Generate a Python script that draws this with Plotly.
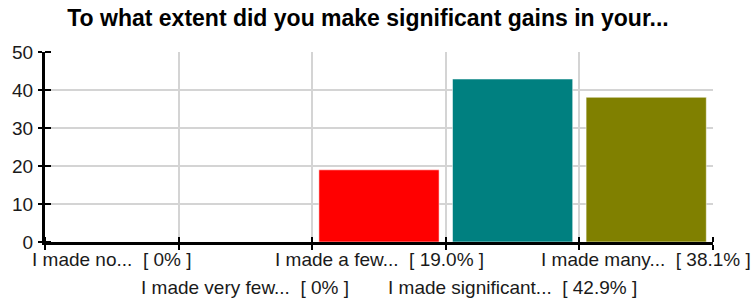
import plotly.graph_objects as go

categories = ["I made no...", "I made very few...", "I made a few...",
              "I made significant...", "I made many..."]
percent_values = [0.0, 0.0, 19.0, 42.9, 38.1]
bar_colors = ["#0000ff", "#00ff00", "#ff0000", "#008080", "#808000"]
y_ticks = [0, 10, 20, 30, 40, 50]
title_text = "To what extent did you make significant gains in your..."

NB = "\u00a0"
x_pos = list(range(len(categories)))

fig = go.Figure()
fig.add_trace(go.Bar(
    x=x_pos, y=percent_values,
    marker=dict(color=bar_colors, line=dict(color="rgba(255,255,255,0.55)", width=1)),
    width=0.9, hoverinfo="skip",
))

font_family = "Liberation Sans, Arial, sans-serif"

for i, (cat, v) in enumerate(zip(categories, percent_values)):
    pct = f"{v:.1f}%" if v else "0%"
    label = f"{cat}{NB}{NB}[{NB}{pct}{NB}]"
    fig.add_annotation(
        x=i, xref="x", y=0, yref="paper",
        yanchor="top", xanchor="center",
        yshift=-5 if i % 2 == 0 else -33,
        text=label, showarrow=False,
        font=dict(family=font_family, size=19, color="#1a1a1a"),
    )

fig.update_layout(
    width=755, height=303,
    margin=dict(l=43, r=42, t=52, b=61),
    paper_bgcolor="white", plot_bgcolor="white",
    showlegend=False,
    title=dict(
        text=f"<b>{title_text}</b>",
        x=368 / 755, xref="container", xanchor="center",
        y=1 - 18 / 303, yref="container", yanchor="middle",
        font=dict(family=font_family, size=23, color="black"),
    ),
    xaxis=dict(
        range=[-0.5, len(categories) - 0.5],
        tickmode="array",
        tickvals=[i - 0.5 for i in range(len(categories) + 1)],
        ticktext=[""] * (len(categories) + 1),
        ticks="outside", ticklen=5, tickwidth=2, tickcolor="black",
        minor=dict(ticks="inside", ticklen=5, tickwidth=2, tickcolor="black",
                   tick0=-0.5001, dtick=1, showgrid=False),
        showgrid=True, gridcolor="#d4d4d4", gridwidth=2,
        showline=True, linecolor="black", linewidth=3,
        zeroline=False, fixedrange=True,
    ),
    yaxis=dict(
        range=[0, 50],
        tickmode="array", tickvals=y_ticks,
        ticks="outside", ticklen=4, tickwidth=2, tickcolor="black",
        minor=dict(ticks="inside", ticklen=6, tickwidth=2, tickcolor="black",
                   tick0=0.001, dtick=10, showgrid=False),
        showgrid=True, gridcolor="#d4d4d4", gridwidth=2,
        showline=True, linecolor="black", linewidth=3,
        zeroline=False, ticklabelstandoff=1,
        tickfont=dict(family=font_family, size=19, color="#1a1a1a"),
        fixedrange=True,
    ),
)

fig.write_html(
    "out.html",
    config={"displayModeBar": False},
    post_script="document.body.style.margin='0';document.body.style.overflow='hidden';",
)
